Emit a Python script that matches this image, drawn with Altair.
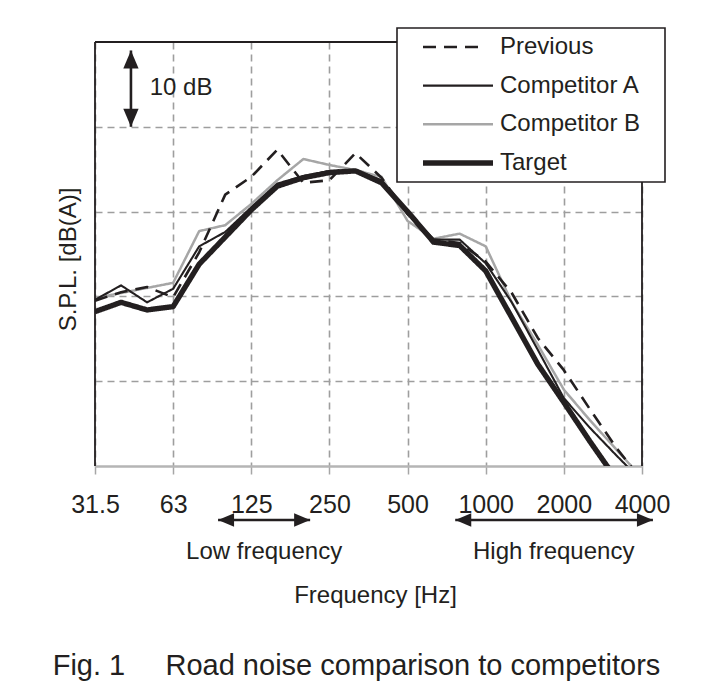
import altair as alt
import pandas as pd

# ---------------- data ----------------
FREQS = ["31.5", "40", "50", "63", "80", "100", "125", "160", "200", "250", "315",
         "400", "500", "630", "800", "1000", "1250", "1600", "2000", "2500", "3150", "4000"]
OCTAVE_LABELS = FREQS[::3]          # 31.5, 63, 125, ... 4000

PREVIOUS = [19.5, 20.5, 21.1, 19.9, 25.2, 32.0, 34.1, 37.3, 33.4, 33.7, 36.9,
            34.0, 29.7, 26.7, 26.3, 24.1, 20.4, 15.1, 11.3, 6.7, 2.2, -1.7]
COMP_A = [19.6, 21.3, 19.3, 20.9, 25.9, 27.6, 30.5, 33.3, 34.2, 34.8, 34.9,
          33.7, 30.0, 26.7, 26.7, 23.9, 19.3, 13.7, 8.0, 4.5, 1.3, -1.8]
COMP_B = [19.8, 20.4, 21.0, 21.6, 27.7, 28.4, 30.9, 33.7, 36.2, 35.5, 34.9,
          34.1, 28.9, 26.8, 27.4, 25.9, 19.3, 14.3, 9.0, 5.4, 2.0, -1.4]
TARGET = [18.2, 19.3, 18.4, 18.8, 23.8, 27.0, 30.2, 33.0, 34.0, 34.6, 34.8,
          33.4, 30.0, 26.4, 26.0, 23.0, 17.5, 12.0, 7.5, 2.9, -1.5, -6.0]

SERIES = ["Previous", "Competitor A", "Competitor B", "Target"]
VALUES = {"Previous": PREVIOUS, "Competitor A": COMP_A,
          "Competitor B": COMP_B, "Target": TARGET}
DRAW_ORDER = ["Competitor B", "Previous", "Competitor A", "Target"]

# ---------------- styles ----------------
FONT = "Liberation Sans"
INK = "#231f20"
GRID = "#9e9e9e"
COLORS = [INK, INK, "#a6a6a6", INK]
WIDTHS = [2.6, 2.1, 2.5, 5.4]
DASH_PLOT = [[13, 8], [1, 0], [1, 0], [1, 0]]
DASH_KEY = [[13, 8, 13, 8, 13, 40], [1, 0], [1, 0], [1, 0]]

W, H = 547, 424

rows = []
for name in DRAW_ORDER:
    for i, (band, level) in enumerate(zip(FREQS, VALUES[name])):
        rows.append({"series": name, "band": band, "octave": i / 3, "level": level})
df = pd.DataFrame(rows)

XSCALE = alt.Scale(domain=[0, 7], nice=False, zero=False)
YSCALE = alt.Scale(domain=[0, 50], nice=False, zero=False)
labels_js = "[" + ",".join("'%s'" % s for s in OCTAVE_LABELS) + "]"

x_axis = alt.Axis(
    values=list(range(8)), labelExpr=labels_js + "[round(datum.value)]",
    grid=True, gridColor=GRID, gridDash=[7, 5], gridWidth=1.6,
    domainColor="#b5b5b5", domainWidth=2.6,
    tickColor="#a6a6a6", tickSize=8, tickWidth=1.5,
    labelFont=FONT, labelFontSize=25, labelColor=INK, labelPadding=18,
    labelFlush=False, labelOverlap=False,
    title="Frequency [Hz]", titleFont=FONT, titleFontSize=24, titleFontWeight="normal",
    titleColor=INK, titleBaseline="alphabetic", titleY=136, titleX=280,
)
y_axis = alt.Axis(
    values=[10, 20, 30, 40], labels=False, ticks=False, domain=False,
    grid=True, gridColor=GRID, gridDash=[7, 5], gridWidth=1.6,
    title="S.P.L. [dB(A)]", titleFont=FONT, titleFontSize=24, titleFontWeight="normal",
    titleColor=INK, titlePadding=15, titleY=217,
)

color_enc = alt.Color("series:N", scale=alt.Scale(domain=SERIES, range=COLORS), legend=None)
width_enc = alt.StrokeWidth("series:N",
                            scale=alt.Scale(type="ordinal", domain=SERIES, range=WIDTHS),
                            legend=None)

lines = alt.Chart(df).mark_line(clip=True, strokeJoin="round").encode(
    x=alt.X("octave:Q", scale=XSCALE, axis=x_axis),
    y=alt.Y("level:Q", scale=YSCALE, axis=y_axis),
    color=color_enc,
    strokeDash=alt.StrokeDash("series:N", scale=alt.Scale(domain=SERIES, range=DASH_PLOT), legend=None),
    strokeWidth=width_enc,
)

one = pd.DataFrame({"k": [0]})
frame_left = alt.Chart(one).mark_rule(color=INK, strokeWidth=1.8).encode(
    x=alt.value(0), y=alt.value(0), y2=alt.value(H))
frame_top = alt.Chart(one).mark_rule(color=INK, strokeWidth=1.8).encode(
    x=alt.value(0), x2=alt.value(W), y=alt.value(0))
frame_right = alt.Chart(one).mark_rule(color=INK, strokeWidth=1.8).encode(
    x=alt.value(W), y=alt.value(0), y2=alt.value(H))

# ---------------- annotations ----------------
UP = "M0,0L0.85,2L-0.85,2Z"
DOWN = "M0,0L0.85,-2L-0.85,-2Z"
LEFT = "M0,0L2,-0.85L2,0.85Z"
RIGHT = "M0,0L-2,-0.85L-2,0.85Z"

bar = pd.DataFrame({"x": [0.46], "lo": [40.0], "hi": [49.0], "tx": [0.70], "ty": [44.6]})
bar_x = alt.X("x:Q", scale=XSCALE, axis=None)
bar_shaft = alt.Chart(bar).mark_rule(color=INK, strokeWidth=2.6).encode(
    x=bar_x, y=alt.Y("lo:Q", scale=YSCALE, axis=None), y2="hi:Q")
bar_up = alt.Chart(bar).mark_point(shape=UP, filled=True, size=324, opacity=1, color=INK).encode(
    x=bar_x, y=alt.Y("hi:Q", scale=YSCALE, axis=None))
bar_down = alt.Chart(bar).mark_point(shape=DOWN, filled=True, size=324, opacity=1, color=INK).encode(
    x=bar_x, y=alt.Y("lo:Q", scale=YSCALE, axis=None))
bar_text = alt.Chart(bar).mark_text(align="left", baseline="middle", font=FONT, fontSize=24,
                                    color=INK, text="10 dB").encode(
    x=alt.X("tx:Q", scale=XSCALE, axis=None), y=alt.Y("ty:Q", scale=YSCALE, axis=None))

ranges = pd.DataFrame({"start": [1.575, 4.61], "end": [2.753, 7.14], "mid": [2.164, 5.87],
                       "label": ["Low frequency", "High frequency"]})
r_shaft = alt.Chart(ranges).mark_rule(color=INK, strokeWidth=2.6).encode(
    x=alt.X("start:Q", scale=XSCALE, axis=None), x2="end:Q", y=alt.value(478))
r_left = alt.Chart(ranges).mark_point(shape=LEFT, filled=True, size=256, opacity=1, color=INK).encode(
    x=alt.X("start:Q", scale=XSCALE, axis=None), y=alt.value(478))
r_right = alt.Chart(ranges).mark_point(shape=RIGHT, filled=True, size=256, opacity=1, color=INK).encode(
    x=alt.X("end:Q", scale=XSCALE, axis=None), y=alt.value(478))
r_text = alt.Chart(ranges).mark_text(align="center", baseline="middle", font=FONT, fontSize=24,
                                     color=INK).encode(
    x=alt.X("mid:Q", scale=XSCALE, axis=None), y=alt.value(510), text="label:N")

# ---------------- legend ----------------
legend_box = alt.Chart(one).mark_rect(fill="white", stroke=INK, strokeWidth=1.6).encode(
    x=alt.value(302), x2=alt.value(570), y=alt.value(-14), y2=alt.value(140))
key_df = pd.DataFrame({"series": SERIES})
key_y = alt.Y("series:N", scale=alt.Scale(type="point", domain=SERIES, range=[5, 121], padding=0),
              axis=None)
keys = alt.Chart(key_df).mark_rule(strokeCap="butt").encode(
    x=alt.value(328), x2=alt.value(398), y=key_y, color=color_enc, strokeWidth=width_enc,
    strokeDash=alt.StrokeDash("series:N", scale=alt.Scale(domain=SERIES, range=DASH_KEY), legend=None),
)
key_text = alt.Chart(key_df).mark_text(align="left", baseline="middle", font=FONT, fontSize=24,
                                       color=INK).encode(
    x=alt.value(405), y=key_y, text="series:N")

chart = alt.layer(
    lines, frame_left, frame_top, frame_right,
    bar_shaft, bar_up, bar_down, bar_text,
    r_shaft, r_left, r_right, r_text,
    legend_box, keys, key_text,
).resolve_scale(
    y="independent", strokeDash="independent"
).resolve_axis(
    x="independent"
).properties(
    width=W, height=H,
    padding={"left": 87, "top": 34, "right": 62, "bottom": 220},
    autosize=alt.AutoSizeParams(type="none"),
    title=alt.TitleParams(
        text="Fig.\u00a01\u00a0\u00a0\u00a0\u00a0\u00a0Road noise comparison to competitors",
        orient="bottom", anchor="middle", font=FONT, fontSize=29, fontWeight="normal",
        color=INK, offset=45, dx=-12,
    ),
).configure_view(stroke=None)

chart.save("out.html", embed_options={"renderer": "svg", "actions": False})
